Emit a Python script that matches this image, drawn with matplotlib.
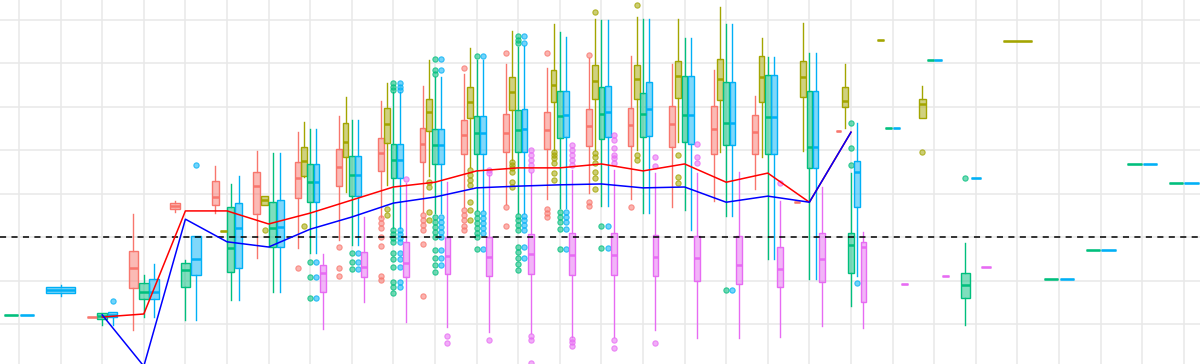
import matplotlib.pyplot as plt
from matplotlib.colors import to_rgba

n_cats = 29
group_colors = ["#F8766D", "#A3A500", "#00BF7D", "#00B0F6", "#E76BF3"]

# group A (red)
a_cats = [2, 3, 4, 5, 6, 7, 8, 9, 10, 11, 12, 13, 14, 15, 16, 17, 18, 19, 20]
a_lo = [-1.84, -2.14, 0.57, 0.55, -0.48, -0.25, -0.07, 0.46, 0.57, 0.69, 0.76, 0.87, 1.01, 0.87, 0.69, 0.83, 1.10, 0.80, 2.44]
a_q1 = [-1.84, -1.17, 0.64, 0.74, 0.53, 0.90, 1.17, 1.52, 1.72, 1.91, 1.95, 2.02, 2.09, 2.09, 2.07, 1.91, 1.91, 0.80, 2.44]
a_med = [-1.84, -0.71, 0.71, 0.92, 1.17, 1.36, 1.61, 1.93, 2.14, 2.34, 2.39, 2.46, 2.55, 2.57, 2.60, 2.48, 2.41, 0.80, 2.44]
a_q3 = [-1.84, -0.32, 0.78, 1.29, 1.49, 1.72, 2.02, 2.28, 2.51, 2.69, 2.83, 2.87, 2.94, 2.97, 3.01, 3.01, 2.80, 0.80, 2.44]
a_hi = [-1.84, 0.53, 0.83, 1.63, 1.98, 2.41, 2.78, 3.13, 3.47, 3.75, 3.98, 3.89, 4.11, 4.16, 3.98, 3.84, 3.24, 0.80, 2.44]
a_out = {7: [-0.71], 8: [-0.23, -0.71, -0.90],
         9: [0.44, 0.32, 0.21, 0.0, -0.21, -0.90, -0.99],
         10: [0.51, 0.39, 0.28, 0.16, -0.16, -1.36],
         11: [3.89, 0.62, 0.51, 0.39, 0.25, 0.16],
         12: [4.23, 0.69, 0.25], 13: [4.23, 0.64, 0.55, 0.46],
         14: [4.18, 0.80, 0.71], 15: [0.69]}

# group B (olive)
b_cats = [5, 6, 7, 8, 9, 10, 11, 12, 13, 14, 15, 16, 17, 18, 19, 20, 21, 22, 24]
b_lo = [0.14, 0.74, 1.38, 1.03, 1.20, 1.40, 1.61, 1.77, 2.00, 2.00, 2.00, 2.18, 1.95, 1.84, 1.98, 2.51, 4.53, 2.74, 4.51]
b_q1 = [0.14, 0.74, 1.40, 1.84, 2.16, 2.44, 2.74, 2.92, 3.10, 3.17, 3.17, 3.20, 3.15, 3.10, 3.22, 2.99, 4.53, 2.74, 4.51]
b_med = [0.14, 0.85, 1.75, 2.18, 2.60, 2.87, 3.10, 3.33, 3.49, 3.59, 3.63, 3.70, 3.63, 3.68, 3.68, 3.13, 4.53, 3.06, 4.51]
b_q3 = [0.14, 0.94, 2.07, 2.62, 2.97, 3.17, 3.45, 3.68, 3.84, 3.95, 3.95, 4.05, 4.09, 4.16, 4.05, 3.45, 4.53, 3.17, 4.51]
b_hi = [0.14, 0.94, 2.64, 3.22, 3.54, 4.07, 4.34, 4.74, 4.90, 5.01, 5.06, 5.01, 5.29, 4.57, 4.92, 3.98, 4.53, 3.47, 4.51]
b_out = {6: [0.16], 7: [0.25], 9: [0.64, 0.51],
         10: [1.26, 1.15, 0.57, 0.39],
         11: [1.54, 1.43, 1.31, 1.20, 0.80, 0.62, 0.39],
         12: [1.72, 1.66, 1.59, 1.49, 1.26, 1.15],
         13: [1.95, 1.89, 1.82, 1.70, 1.47, 1.31],
         14: [5.17, 1.93, 1.84, 1.70, 1.49, 1.36, 1.10],
         15: [5.33, 1.89, 1.77], 16: [1.89, 1.38, 1.24], 22: [1.95]}

# group C (green)
c_cats = [0, 2, 3, 4, 5, 6, 7, 8, 9, 10, 11, 12, 13, 14, 15, 16, 17, 18, 19, 20, 21, 22, 23, 25, 26, 27, 28]
c_lo = [-1.79, -2.02, -1.84, -1.91, -1.45, -1.26, -0.37, -0.18, 0.21, 0.55, 0.62, 0.55, 0.67, 0.71, 0.55, 0.62, 0.48, -0.51, -0.97, -1.59, 2.51, 4.07, -2.02, -0.97, -0.30, 1.68, 1.24]
c_q1 = [-1.79, -1.89, -1.43, -1.15, -0.80, -0.23, 0.80, 0.94, 1.36, 1.68, 1.91, 1.95, 2.28, 2.25, 2.30, 2.18, 2.11, 1.91, 1.59, -0.83, 2.51, 4.07, -1.40, -0.97, -0.30, 1.68, 1.24]
c_med = [-1.79, -1.82, -1.26, -0.76, -0.25, 0.21, 1.26, 1.43, 1.77, 2.11, 2.39, 2.46, 2.78, 2.83, 2.83, 2.80, 2.62, 2.76, 2.07, -0.18, 2.51, 4.07, -1.10, -0.97, -0.30, 1.68, 1.24]
c_q3 = [-1.79, -1.75, -1.06, -0.60, 0.69, 0.80, 1.68, 1.86, 2.14, 2.48, 2.78, 2.92, 3.36, 3.45, 3.31, 3.70, 3.56, 3.72, 3.36, 0.09, 2.51, 4.07, -0.83, -0.97, -0.30, 1.68, 1.24]
c_hi = [-1.79, -1.75, -0.87, -0.53, 1.22, 1.93, 2.48, 2.69, 3.33, 3.68, 4.07, 4.37, 4.71, 4.99, 5.01, 4.57, 4.90, 4.14, 4.23, 1.47, 2.51, 4.07, -0.14, -0.97, -0.30, 1.68, 1.24]
c_out = {7: [-0.57, -0.92, -1.40], 8: [-0.37, -0.57, -0.74],
         9: [3.54, 3.45, 3.38, 0.16, 0.07, -0.02, -0.11, -0.37, -0.51, -0.69, -1.03, -1.15, -1.29],
         10: [4.09, 3.84, 3.75, 0.46, 0.34, 0.23, 0.11, 0.0, -0.30, -0.48, -0.64, -0.80],
         11: [4.16, 0.55, 0.44, 0.32, 0.21, 0.09, 0.0, -0.28],
         12: [4.62, 4.53, 4.46, 0.48, 0.39, 0.28, 0.16, -0.23, -0.34, -0.48, -0.62, -0.76],
         13: [0.57, 0.46, 0.34, 0.18, -0.28], 14: [0.25, -0.25],
         17: [-1.22], 20: [2.62, 2.05, 1.66], 23: [1.36]}

# group D (blue)
d_cats = [0, 1, 2, 3, 4, 5, 6, 7, 8, 9, 10, 11, 12, 13, 14, 15, 16, 17, 18, 19, 20, 21, 22, 23, 25, 26, 27, 28]
d_lo = [-1.79, -1.36, -2.02, -1.84, -1.91, -1.45, -1.26, -0.37, -0.18, 0.21, 0.55, 0.62, 0.55, 0.67, 0.71, 0.55, 0.16, 0.48, -0.51, -0.97, -0.90, 2.51, 4.07, 1.36, -0.97, -0.30, 1.68, 1.24]
d_q1 = [-1.79, -1.29, -1.84, -1.43, -0.87, -0.71, -0.23, 0.80, 0.94, 1.36, 1.68, 1.91, 1.95, 2.30, 2.30, 2.32, 2.14, 2.11, 1.91, 1.59, 0.69, 2.51, 4.07, 1.36, -0.97, -0.30, 1.68, 1.24]
d_med = [-1.79, -1.22, -1.79, -1.26, -0.51, 0.21, 0.23, 1.26, 1.43, 1.77, 2.11, 2.39, 2.48, 2.80, 2.87, 2.94, 2.80, 2.62, 2.76, 2.07, 1.49, 2.51, 4.07, 1.36, -0.97, -0.30, 1.68, 1.24]
d_q3 = [-1.79, -1.15, -1.72, -0.97, 0.02, 0.78, 0.85, 1.68, 1.86, 2.14, 2.48, 2.78, 2.94, 3.36, 3.47, 3.56, 3.70, 3.56, 3.72, 3.36, 1.75, 2.51, 4.07, 1.36, -0.97, -0.30, 1.68, 1.24]
d_hi = [-1.79, -1.10, -1.72, -0.62, 0.02, 1.40, 1.93, 2.48, 2.69, 3.33, 3.68, 4.07, 4.39, 4.60, 4.99, 5.01, 4.57, 4.90, 4.14, 4.23, 2.62, 2.51, 4.07, 1.36, -0.97, -0.30, 1.68, 1.24]
d_out = {2: [-1.47], 4: [1.66], 7: [-0.57, -0.92, -1.40], 8: [-0.37, -0.57, -0.74],
         9: [3.54, 3.45, 3.38, 0.16, 0.07, -0.02, -0.11, -0.37, -0.51, -0.69, -1.03, -1.15],
         10: [4.09, 3.84, 0.46, 0.34, 0.23, 0.11, 0.0, -0.30, -0.48, -0.64],
         11: [4.16, 0.55, 0.44, 0.32, 0.21, 0.09, -0.28],
         12: [4.62, 4.46, 0.48, 0.39, 0.28, 0.16, -0.23, -0.48],
         13: [0.57, 0.46, 0.34, 0.18, -0.28], 14: [0.25, -0.25],
         17: [-1.22], 20: [-1.06]}

# group E (magenta)
e_cats = [7, 8, 9, 10, 11, 12, 13, 14, 15, 16, 17, 18, 19, 20, 21, 22, 23]
e_lo = [-2.11, -1.49, -1.95, -2.07, -2.18, -2.21, -2.30, -2.30, -2.14, -2.32, -2.32, -2.30, -2.05, -2.09, -1.08, -0.90, -0.69]
e_q1 = [-1.26, -0.92, -0.92, -0.85, -0.90, -0.85, -0.87, -0.87, -0.90, -1.01, -1.08, -1.15, -1.03, -1.49, -1.08, -0.90, -0.69]
e_med = [-0.83, -0.69, -0.60, -0.44, -0.46, -0.39, -0.41, -0.41, -0.46, -0.48, -0.64, -0.74, -0.51, -0.23, -1.08, -0.90, -0.69]
e_q3 = [-0.64, -0.34, -0.11, 0.00, 0.00, 0.07, 0.09, 0.09, 0.05, 0.02, 0.02, -0.23, 0.09, -0.11, -1.08, -0.90, -0.69]
e_hi = [-0.39, 0.46, 1.24, 1.26, 1.43, 1.47, 1.54, 1.54, 1.47, 1.47, 1.49, 0.83, 1.15, 0.11, -1.08, -0.90, -0.69]
e_out = {9: [1.33], 10: [-2.28, -2.44], 11: [1.54, 1.47, -2.37],
         12: [2.00, 1.89, 1.77, 1.66, 1.54, -2.28, -2.37, -2.90],
         13: [2.11, 2.00, 1.89, 1.77, 1.66, -2.34, -2.41, -2.51],
         14: [2.34, 2.23, 2.05, 1.89, 1.82, 1.70, -2.37, -2.55],
         15: [1.84, 1.63, -2.44], 16: [2.14, 1.84, 1.70], 18: [1.24]}

# summary lines
line_cats = [2, 3, 4, 5, 6, 7, 8, 9, 10, 11, 12, 13, 14, 15, 16, 17, 18, 19, 20]
red_line = [-1.84, -1.77, 0.60, 0.60, 0.30, 0.55, 0.85, 1.15, 1.26, 1.52, 1.59, 1.59, 1.68, 1.52, 1.68, 1.26, 1.47, 0.80, 2.41]
blue_line = [-1.79, -2.97, 0.41, -0.11, -0.23, 0.18, 0.46, 0.78, 0.92, 1.13, 1.17, 1.20, 1.22, 1.13, 1.15, 0.80, 0.94, 0.80, 2.41]

groups = [
    (a_cats, a_lo, a_q1, a_med, a_q3, a_hi, a_out),
    (b_cats, b_lo, b_q1, b_med, b_q3, b_hi, b_out),
    (c_cats, c_lo, c_q1, c_med, c_q3, c_hi, c_out),
    (d_cats, d_lo, d_q1, d_med, d_q3, d_hi, d_out),
    (e_cats, e_lo, e_q1, e_med, e_q3, e_hi, e_out),
]

# which groups are present in each category (for dodging)
present = {}
for g, grp in enumerate(groups):
    for c in grp[0]:
        present.setdefault(c, []).append(g)

fig = plt.figure(figsize=(12, 3.64), dpi=100)
ax = fig.add_axes([0, 0, 1, 1])

dodge = 0.75
for g, (cats, lo, q1, med, q3, hi, out) in enumerate(groups):
    col = group_colors[g]
    stats, pos, wid = [], [], []
    for i, c in enumerate(cats):
        members = present[c]
        slot = dodge / len(members)
        k = members.index(g)
        pos.append(c - dodge / 2 + slot * (k + 0.5))
        wid.append(slot * 0.92)
        stats.append(dict(whislo=lo[i], q1=q1[i], med=med[i], q3=q3[i],
                          whishi=hi[i], fliers=out.get(c, [])))
    ax.bxp(stats, positions=pos, widths=wid, patch_artist=True,
           showcaps=False, manage_ticks=False,
           boxprops=dict(facecolor=to_rgba(col, 0.5), edgecolor=col, linewidth=1),
           medianprops=dict(color=col, linewidth=1.8),
           whiskerprops=dict(color=col, linewidth=1),
           flierprops=dict(marker="o", markersize=3.8,
                           markerfacecolor=to_rgba(col, 0.55),
                           markeredgecolor=to_rgba(col, 0.75),
                           markeredgewidth=0.8))

ax.axhline(0, color="black", linestyle=(0, (4, 3.5)), linewidth=1.1, zorder=4)
ax.plot(line_cats, red_line, color="red", linewidth=1.1, zorder=5)
ax.plot(line_cats, blue_line, color="blue", linewidth=1.1, zorder=6)

ax.set_xlim(-0.457, 28.39)
ax.set_ylim(-2.92, 5.45)
ax.set_xticks(range(n_cats))
ax.set_yticks(range(-2, 6))
ax.grid(color="#e8e8e8", linewidth=1.1)
ax.set_axisbelow(True)
ax.tick_params(length=0, labelbottom=False, labelleft=False)
for s in ax.spines.values():
    s.set_visible(False)

fig.savefig("out.png", dpi=100)
